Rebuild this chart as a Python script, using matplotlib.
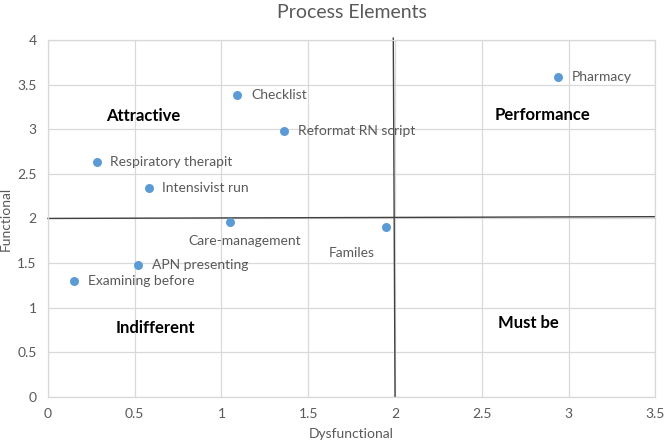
import matplotlib
matplotlib.use("Agg")
import matplotlib.pyplot as plt

plt.rcParams['font.family'] = ['Lato', 'DejaVu Sans']

names = ["Pharmacy", "Checklist", "Reformat RN script", "Respiratory therapit",
         "Intensivist run", "Care-management", "Familes", "APN presenting",
         "Examining before"]
dysfunctional = [2.94, 1.09, 1.36, 0.28, 0.58, 1.05, 1.95, 0.52, 0.15]
functional = [3.59, 3.38, 2.98, 2.63, 2.34, 1.96, 1.90, 1.48, 1.30]

quadrants = ["Attractive", "Performance", "Indifferent", "Must be"]
quad_x = [0.55, 2.85, 0.62, 2.77]
quad_y = [3.15, 3.16, 0.77, 0.83]

# divider lines (x endpoints, y endpoints)
hline_x = [0.0, 3.5]
hline_y = [2.0, 2.02]
vline_x = [1.99, 2.0]
vline_y = [4.02, 0.0]

xticks = [0, 0.5, 1, 1.5, 2, 2.5, 3, 3.5]
yticks = [0, 0.5, 1, 1.5, 2, 2.5, 3, 3.5, 4]

fig = plt.figure(figsize=(6.66, 4.44), dpi=100)
ax = fig.add_axes([0.072, 0.106, 0.912, 0.804])

grid_c = "#d9d9d9"
text_c = "#595959"

ax.set_xlim(0, 3.5)
ax.set_ylim(0, 4)
ax.set_xticks(xticks)
ax.set_yticks(yticks)
ax.set_xticklabels([f"{t:g}" for t in xticks])
ax.set_yticklabels([f"{t:g}" for t in yticks])
ax.grid(True, color=grid_c, linewidth=0.9)
ax.set_axisbelow(True)
for s in ax.spines.values():
    s.set_color(grid_c)
    s.set_linewidth(0.9)
ax.tick_params(length=0, colors=text_c, labelsize=10, pad=8)

ax.plot(hline_x, hline_y, color="#404040", linewidth=1.0, zorder=2, clip_on=False)
ax.plot(vline_x, vline_y, color="#404040", linewidth=1.0, zorder=2, clip_on=False)

ax.scatter(dysfunctional, functional, s=42, color="#5b9bd5", zorder=3, linewidths=0)

offsets = {
    "Care-management": (0.085, -0.21, "center"),
    "Familes": (-0.33, -0.29, "left"),
}
for n, x, y in zip(names, dysfunctional, functional):
    if n in offsets:
        dx, dy, ha = offsets[n]
        ax.text(x + dx, y + dy, n, ha=ha, va="center", fontsize=10, color=text_c)
    else:
        ax.text(x + 0.08, y, n, ha="left", va="center", fontsize=10, color=text_c)

for q, x, y in zip(quadrants, quad_x, quad_y):
    ax.text(x, y, q, ha="center", va="center", fontsize=12, fontweight="bold", color="black")

ax.set_title("Process Elements", color=text_c, fontsize=14, pad=16)
ax.set_xlabel("Dysfunctional", color=text_c, fontsize=10, labelpad=6)
ax.set_ylabel("Functional", color=text_c, fontsize=10, labelpad=4)

fig.savefig("out.png", dpi=100)
